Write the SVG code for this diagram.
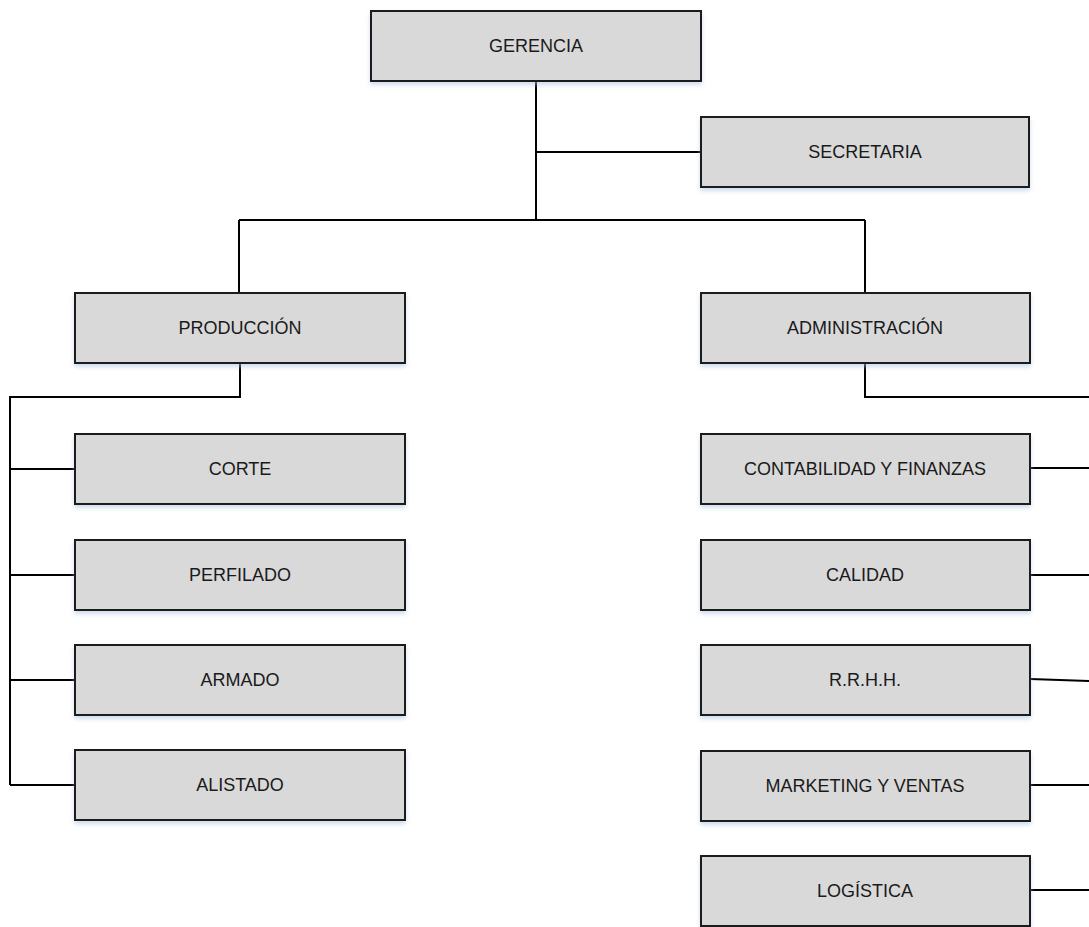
<svg xmlns="http://www.w3.org/2000/svg" width="1089" height="927" viewBox="0 0 1089 927">
<style>
.box{fill:#d9d9d9;stroke:#1a1a1a;stroke-width:2;filter:url(#sh)}
.lbl{font-family:"Liberation Sans",Arial,sans-serif;font-size:18px;fill:#1a1a1a;text-anchor:middle}
.con{fill:none;stroke:#000;stroke-width:2}
</style>
<defs>
<filter id="sh" x="-5%" y="-10%" width="110%" height="130%">
<feDropShadow dx="0" dy="3" stdDeviation="2" flood-color="#a9c1e0" flood-opacity="0.55"/>
</filter>
</defs>
<rect width="1089" height="927" fill="#fff"/>
<g id="connectors">
<path class="con" d="M536 81V220M536 152H701M239 220H865M239 220V293M865 220V293"/>
<path class="con" d="M240 363V397H10V785M10 469H75M10 575H75M10 680H75M10 785H75"/>
<path class="con" d="M865 363V397H1089M1030 468H1089M1030 575H1089M1030 679L1089 681M1030 785H1089M1030 890H1089"/>
</g>
<g id="gerencia"><rect class="box" x="371" y="11" width="330" height="70"/><text class="lbl" x="536" y="52">GERENCIA</text></g>
<g id="secretaria"><rect class="box" x="701" y="117" width="328" height="70"/><text class="lbl" x="865" y="158">SECRETARIA</text></g>
<g id="produccion"><rect class="box" x="75" y="293" width="330" height="70"/><text class="lbl" x="240" y="334">PRODUCCIÓN</text></g>
<g id="administracion"><rect class="box" x="701" y="293" width="329" height="70"/><text class="lbl" x="865" y="334">ADMINISTRACIÓN</text></g>
<g id="corte"><rect class="box" x="75" y="434" width="330" height="70"/><text class="lbl" x="240" y="475">CORTE</text></g>
<g id="perfilado"><rect class="box" x="75" y="540" width="330" height="70"/><text class="lbl" x="240" y="581">PERFILADO</text></g>
<g id="armado"><rect class="box" x="75" y="645" width="330" height="70"/><text class="lbl" x="240" y="686">ARMADO</text></g>
<g id="alistado"><rect class="box" x="75" y="750" width="330" height="70"/><text class="lbl" x="240" y="791">ALISTADO</text></g>
<g id="contabilidad"><rect class="box" x="701" y="434" width="329" height="70"/><text class="lbl" x="865" y="475">CONTABILIDAD Y FINANZAS</text></g>
<g id="calidad"><rect class="box" x="701" y="540" width="329" height="70"/><text class="lbl" x="865" y="581">CALIDAD</text></g>
<g id="rrhh"><rect class="box" x="701" y="645" width="329" height="70"/><text class="lbl" x="865" y="686">R.R.H.H.</text></g>
<g id="marketing"><rect class="box" x="701" y="751" width="329" height="70"/><text class="lbl" x="865" y="792">MARKETING Y VENTAS</text></g>
<g id="logistica"><rect class="box" x="701" y="856" width="329" height="70"/><text class="lbl" x="865" y="897">LOGÍSTICA</text></g>
</svg>
